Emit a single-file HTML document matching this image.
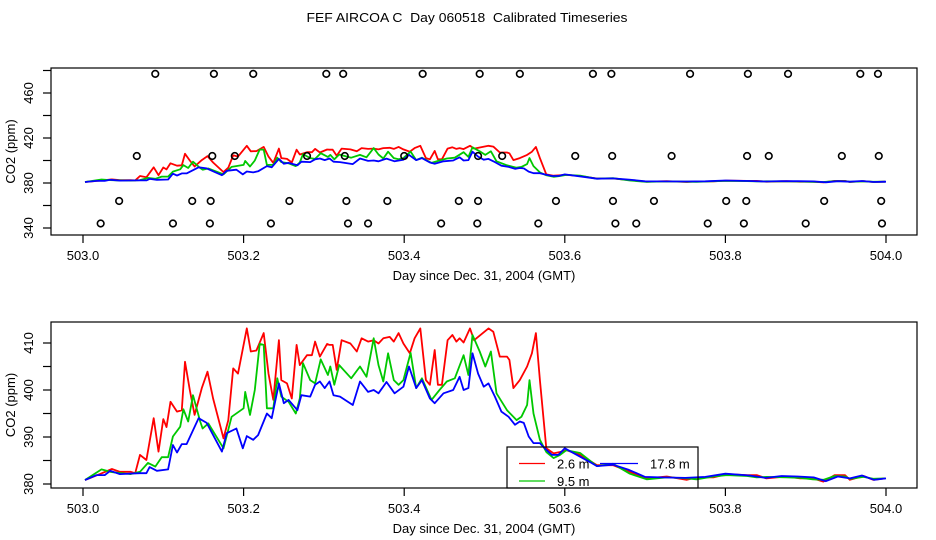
<!DOCTYPE html>
<html><head><meta charset="utf-8"><style>
html,body{margin:0;padding:0;background:#fff;}
svg{display:block;font-family:"Liberation Sans",Arial,sans-serif;}
</style></head><body>
<svg id="chart" width="936" height="540" viewBox="0 0 936 540" xmlns="http://www.w3.org/2000/svg">
<text x="467" y="22" font-size="12.5" text-anchor="middle" style="white-space:pre" textLength="321" lengthAdjust="spacingAndGlyphs">FEF AIRCOA C  Day 060518  Calibrated Timeseries</text>
<g id="topPanel"></g>
<g id="botPanel"></g>
</svg>
<script>
const xTicks = [503.0, 503.2, 503.4, 503.6, 503.8, 504.0];
const xTickLabels = ["503.0", "503.2", "503.4", "503.6", "503.8", "504.0"];
const topYTicks = [340, 360, 380, 400, 420, 440, 460, 480];
const topYLabels = ["340", "", "380", "", "420", "", "460", ""];
const botYTicks = [380, 385, 390, 395, 400, 405, 410];
const botYLabels = ["380", "", "390", "", "400", "", "410"];

const tailT = [503.619,503.640,503.660,503.681,503.702,503.727,503.752,503.764,503.785,503.802,503.827,503.839,503.851,503.876,503.893,503.909,503.922,503.936,503.949,503.955,503.972,503.984,503.999];
const redT = [503.0025,503.021,503.036,503.046,503.059,503.065,503.071,503.079,503.088,503.094,503.100,503.104,503.109,503.117,503.123,503.127,503.133,503.139,503.148,503.155,503.162,503.175,503.181,503.187,503.193,503.204,503.209,503.216,503.225,503.231,503.237,503.244,503.247,503.254,503.260,503.266,503.270,503.279,503.285,503.289,503.295,503.304,503.307,503.311,503.316,503.322,503.333,503.341,503.347,503.355,503.362,503.368,503.374,503.382,503.387,503.393,503.399,503.407,503.413,503.420,503.427,503.432,503.438,503.442,503.447,503.454,503.460,503.465,503.469,503.474,503.482,503.487,503.505,503.511,503.519,503.528,503.531,503.536,503.544,503.553,503.559,503.564,503.569,503.577,503.586,503.594,503.602].concat(tailT);
const redV = [380.85,382.1,383.2,382.6,382.6,382.3,386.2,385.1,394.0,386.9,393.8,392.1,397.5,395.4,395.7,406.0,400.0,394.7,400.4,403.9,398.2,389.7,393.6,404.6,403.5,413.1,408.2,408.4,412.1,403.5,397.9,410.6,402.1,401.4,398.2,409.6,405.3,407.4,407.4,410.3,407.1,409.8,409.6,409.6,404.3,410.6,409.9,408.2,411.0,410.3,410.6,409.9,411.0,411.3,410.3,412.1,409.9,407.8,411.0,413.1,402.1,401.1,408.5,401.1,401.1,410.6,411.7,410.3,411.0,410.1,413.1,410.6,413.1,412.4,407.1,407.1,406.4,400.4,402.1,405.0,407.8,412.1,402.1,387.6,386.5,386.8,387.2,
386.2,384.0,384.0,382.6,381.2,381.6,380.9,381.4,381.4,382.1,381.9,381.9,381.2,381.6,381.2,381.2,380.5,381.9,381.9,380.9,381.7,380.9,381.2];
const greenT = [503.0025,503.023,503.034,503.042,503.059,503.071,503.081,503.090,503.098,503.106,503.112,503.121,503.125,503.131,503.137,503.146,503.149,503.156,503.175,503.185,503.200,503.202,503.208,503.214,503.220,503.225,503.229,503.237,503.242,503.247,503.256,503.265,503.270,503.274,503.283,503.289,503.296,503.305,503.308,503.313,503.319,503.334,503.345,503.353,503.362,503.368,503.374,503.380,503.387,503.393,503.399,503.408,503.415,503.422,503.434,503.444,503.453,503.463,503.474,503.480,503.485,503.494,503.501,503.508,503.515,503.528,503.540,503.546,503.553,503.556,503.561,503.569,503.577,503.586,503.594,503.602].concat(tailT);
const greenV = [380.85,383.1,382.6,382.4,382.1,382.6,384.5,383.7,385.7,385.7,390.1,392.2,395.9,393.3,398.9,393.3,391.8,392.9,387.6,394.3,396.1,399.6,394.7,400.0,409.8,409.6,396.1,396.1,402.5,398.6,397.5,395.0,398.2,405.7,402.1,401.4,406.5,403.2,405.0,401.1,405.3,402.5,405.0,402.8,411.0,405.3,401.8,407.8,402.1,401.1,402.1,407.9,400.4,402.5,397.9,400.0,401.8,402.5,407.4,403.2,411.7,408.2,405.0,408.2,399.3,395.7,393.6,394.3,396.8,402.1,395.0,389.4,386.8,385.5,386.2,387.2,
386.6,383.8,384.3,382.2,381.0,381.4,381.2,381.0,381.6,381.9,381.7,381.4,381.5,381.4,381.3,381.0,380.9,381.7,381.6,381.1,381.5,381.1,381.2];
const blueT = [503.0025,503.017,503.027,503.034,503.046,503.071,503.079,503.083,503.092,503.106,503.112,503.117,503.123,503.129,503.144,503.154,503.173,503.179,503.191,503.199,503.204,503.212,503.218,503.229,503.235,503.244,503.250,503.256,503.267,503.272,503.283,503.289,503.295,503.301,503.307,503.312,503.320,503.336,503.345,503.355,503.362,503.368,503.378,503.388,503.399,503.406,503.415,503.422,503.432,503.438,503.449,503.461,503.469,503.474,503.480,503.485,503.492,503.499,503.505,503.513,503.521,503.530,503.538,503.544,503.549,503.555,503.561,503.569,503.575,503.584,503.592,503.600,503.631,503.640,503.660,503.680,503.700,503.720,503.750,503.775,503.800,503.830,503.850,503.870,503.890,503.910,503.925,503.940,503.955,503.970,503.985,504.0];
const blueV = [380.85,381.9,381.9,382.8,382.1,382.3,382.3,383.6,382.8,383.1,388.3,386.7,388.5,388.5,394.0,393.0,386.9,390.8,391.8,387.6,390.2,389.4,390.4,395.0,394.0,401.4,397.2,397.9,395.7,398.9,398.6,401.1,401.8,400.4,401.8,398.9,398.6,396.8,401.8,399.6,400.0,399.3,401.7,399.3,400.7,405.0,400.4,402.1,398.2,397.2,399.3,400.0,402.8,400.0,400.4,407.8,403.5,400.7,401.4,398.6,395.4,394.3,392.6,393.3,393.0,390.1,388.7,388.7,387.6,386.2,386.2,387.6,384.7,383.8,384.1,383.0,381.5,381.4,381.3,381.5,382.2,381.8,381.3,381.7,381.6,381.4,380.6,381.6,381.2,381.8,380.9,381.2];

const circT = [503.090,503.163,503.212,503.303,503.324,503.423,503.494,503.544,503.635,503.658,503.756,503.828,503.878,503.968,503.990,
503.067,503.161,503.189,503.279,503.326,503.400,503.492,503.522,503.613,503.659,503.733,503.827,503.854,503.945,503.991,
503.045,503.136,503.159,503.257,503.328,503.379,503.468,503.492,503.589,503.660,503.711,503.801,503.826,503.923,503.994,
503.022,503.112,503.158,503.234,503.330,503.355,503.446,503.491,503.567,503.663,503.689,503.778,503.823,503.900,503.995];
const circV = [477,477,477,477,477,477,477,477,477,477,477,477,477,477,477,
404,404,404,404,404,404,404,404,404,404,404,404,404,404,404,
364,364,364,364,364,364,364,364,364,364,364,364,364,364,364,
344,344,344,344,344,344,344,344,344,344,344,344,344,344,344];

const NS = "http://www.w3.org/2000/svg";
function mk(tag, attrs, parent){ const e=document.createElementNS(NS,tag); for(const k in attrs) e.setAttribute(k,attrs[k]); parent.appendChild(e); return e; }
const sx = t => 83 + (t - 503) * 803;

function panel(g, box, sy, yTicks, yLabels, tag){
  const r = mk('rect',{x:box.l,y:box.t,width:box.r-box.l,height:box.b-box.t,fill:'none',stroke:'#000','stroke-width':1.2},g);
  
  
  const xa = mk('g',{},g);
  
  
  xTicks.forEach((t,i)=>{
    mk('line',{x1:sx(t),x2:sx(t),y1:box.b,y2:box.b+8,stroke:'#000','stroke-width':1.2},xa);
    const tx = mk('text',{x:sx(t),y:box.b+25,'font-size':13,'text-anchor':'middle'},xa);
    tx.textContent = xTickLabels[i];
    
    
  });
  const xt = mk('text',{x:484,y:box.b+45,'font-size':13,'text-anchor':'middle'},g);
  xt.textContent = 'Day since Dec. 31, 2004 (GMT)';
  
  
  const ya = mk('g',{},g);
  
  
  yTicks.forEach((v,i)=>{
    mk('line',{x1:box.l-8,x2:box.l,y1:sy(v),y2:sy(v),stroke:'#000','stroke-width':1.2},ya);
    if(yLabels[i]){
      const tx = mk('text',{x:0,y:0,'font-size':13,'text-anchor':'middle',transform:'translate(33,'+sy(v)+') rotate(-90)'},ya);
      tx.textContent = yLabels[i];
      
      
    }
  });
  const yt = mk('text',{x:0,y:0,'font-size':13,'text-anchor':'middle',transform:'translate(15,'+((box.t+box.b)/2)+') rotate(-90)'},g);
  yt.textContent = 'CO2 (ppm)';
  
  
  const series = [[redT,redV,'#ff0000','red-2-6m'],[greenT,greenV,'#00c800','green-9-5m'],[blueT,blueV,'#0000ff','blue-17-8m']];
  series.forEach(s=>{
    const n = Math.min(s[0].length, s[1].length);
    let d = '';
    for(let i=0;i<n;i++) d += (i?'L':'M')+sx(s[0][i]).toFixed(1)+','+sy(s[1][i]).toFixed(1);
    const p = mk('path',{d:d,fill:'none',stroke:s[2],'stroke-width':1.8,'stroke-linejoin':'round'},g);
    
    
  });
}

const topG = document.getElementById('topPanel');
const topBox = {l:51,r:917,t:68,b:235};
const syTop = v => 183 - (v - 380) * 1.125;
panel(topG, topBox, syTop, topYTicks, topYLabels, 'top');
circT.forEach((t,i)=>{
  const c = mk('circle',{cx:sx(t),cy:syTop(circV[i]),r:3.3,fill:'none',stroke:'#000','stroke-width':1.6},topG);
  
  
});

const botG = document.getElementById('botPanel');
const botBox = {l:51,r:917,t:322,b:488};
const syBot = v => 484 - (v - 380) * 4.7;
panel(botG, botBox, syBot, botYTicks, botYLabels, 'bottom');

const lg = mk('g',{},botG);


mk('rect',{x:507,y:447,width:191,height:41,fill:'none',stroke:'#000','stroke-width':1.2},lg);
const legItems = [['#ff0000',519,545,463.5,557,'2.6 m'],['#0000ff',600,638,463.5,650,'17.8 m'],['#00c800',519,545,481,557,'9.5 m']];
legItems.forEach(it=>{
  const e = mk('g',{},lg);
  
  
  mk('line',{x1:it[1],x2:it[2],y1:it[3],y2:it[3],stroke:it[0],'stroke-width':1.3},e);
  const tx = mk('text',{x:it[4],y:it[3]+5,'font-size':13},e);
  tx.textContent = it[5];
});
</script>
</body></html>
